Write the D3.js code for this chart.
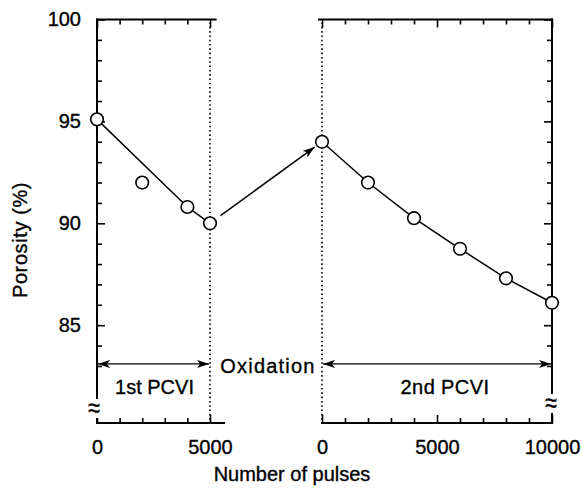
<!DOCTYPE html>
<html><head><meta charset="utf-8">
<script src="https://cdn.jsdelivr.net/npm/d3@7"></script>
<style>
html,body{margin:0;padding:0;background:#fff;}
text{font-family:"Liberation Sans",Arial,Helvetica,sans-serif;fill:#000;stroke:#000;stroke-width:0.35px;}
</style></head>
<body>
<svg id="c" width="582" height="491"></svg>
<script>
// ---- data ----
const firstPulses   = [0, 2000, 4000, 5000];
const firstPorosity = [95.1, 92.0, 90.8, 90.0];
const firstFitPulses   = [0, 4000, 5000];
const firstFitPorosity = [95.1, 90.8, 90.0];
const secondPulses   = [0, 2000, 4000, 6000, 8000, 10000];
const secondPorosity = [94.0, 92.0, 90.25, 88.75, 87.3, 86.1];
const yTickLabels = [85, 90, 95, 100];
const xTickLabelsFirst = [0, 5000];
const xTickLabelsSecond = [0, 5000, 10000];
const spanLabels = ["1st PCVI", "Oxidation", "2nd PCVI"];
const yTitle = "Porosity (%)";
const xTitle = "Number of pulses";

// ---- scales ----
const svg = d3.select("#c");
const y = d3.scaleLinear().domain([80.2, 100]).range([423, 19.5]);
const x1 = d3.scaleLinear().domain([0, 5000]).range([97, 210]);
const x2 = d3.scaleLinear().domain([0, 10000]).range([322, 552]);
const bottomY = y(80.2), topY = y(100);

const defs = svg.append("defs");
function marker(id, orient){
  defs.append("marker").attr("id", id).attr("viewBox","0 0 12 8")
    .attr("refX", 12).attr("refY", 4).attr("markerWidth", 12).attr("markerHeight", 8)
    .attr("markerUnits","userSpaceOnUse").attr("orient", orient)
    .append("path").attr("d","M0,0 L12,4 L0,8 L3,4 Z").attr("fill","#000");
}
marker("ah","auto");
marker("ahs","auto-start-reverse");

const ink = "#000";
// dotted verticals
[[x1(5000)],[x2(0)]].forEach(([xx])=>{
  svg.append("line").attr("x1",xx).attr("x2",xx).attr("y1",topY+3).attr("y2",bottomY)
    .attr("stroke",ink).attr("stroke-width",1.6).attr("stroke-dasharray","1.6,2.7");
});

// axes helper
function ticksRange(a,b,s){const r=[];for(let v=a;v<=b+1e-9;v+=s)r.push(v);return r;}
const yMinor = ticksRange(83, 100, 1).filter(v=>!yTickLabels.includes(v));

// left y axis
const gL = svg.append("g").attr("transform",`translate(${x1(0)},0)`);
gL.call(d3.axisLeft(y).tickValues(yMinor).tickSize(-5).tickFormat(""));
gL.call(g=>g.select(".domain").remove());
const gL2 = svg.append("g").attr("transform",`translate(${x1(0)},0)`);
gL2.call(d3.axisLeft(y).tickValues(yTickLabels).tickSize(-8).tickPadding(16).tickFormat(d3.format("d")));
gL2.select(".domain").remove();
gL2.selectAll("text").attr("font-size",20).attr("font-family","Liberation Sans, Arial, sans-serif");

// right y axis
const gR = svg.append("g").attr("transform",`translate(${x2(10000)},0)`);
gR.call(d3.axisRight(y).tickValues(yMinor).tickSize(-5).tickFormat(""));
gR.select(".domain").remove();
const gR2 = svg.append("g").attr("transform",`translate(${x2(10000)},0)`);
gR2.call(d3.axisRight(y).tickValues(yTickLabels).tickSize(-8).tickFormat(""));
gR2.select(".domain").remove();

// x axes
function xAxes(sc, maxV, labels){
  const minor = ticksRange(0, maxV, 1000).filter(v=>!labels.includes(v));
  const gb = svg.append("g").attr("transform",`translate(0,${bottomY})`);
  gb.call(d3.axisBottom(sc).tickValues(minor).tickSize(-5).tickFormat(""));
  gb.select(".domain").remove();
  const gb2 = svg.append("g").attr("transform",`translate(0,${bottomY})`);
  gb2.call(d3.axisBottom(sc).tickValues(labels).tickSize(-8).tickPadding(17).tickFormat(d3.format("d")));
  gb2.select(".domain").remove();
  gb2.selectAll("text").attr("font-size",20).attr("font-family","Liberation Sans, Arial, sans-serif");
  const gt = svg.append("g").attr("transform",`translate(0,${topY})`);
  gt.call(d3.axisTop(sc).tickValues(minor).tickSize(-5).tickFormat(""));
  gt.select(".domain").remove();
  const gt2 = svg.append("g").attr("transform",`translate(0,${topY})`);
  gt2.call(d3.axisTop(sc).tickValues(labels).tickSize(-8).tickFormat(""));
  gt2.select(".domain").remove();
}
xAxes(x1, 5000, xTickLabelsFirst);
xAxes(x2, 10000, xTickLabelsSecond);
svg.selectAll(".tick line").attr("stroke",ink).attr("stroke-width",1.6);

// axis lines
const lw = 2;
svg.append("line").attr("x1",x1(0)).attr("x2",x1(0)).attr("y1",topY-1).attr("y2",bottomY+1).attr("stroke",ink).attr("stroke-width",lw);
svg.append("line").attr("x1",x2(10000)).attr("x2",x2(10000)).attr("y1",topY-1).attr("y2",bottomY+1).attr("stroke",ink).attr("stroke-width",lw);
svg.append("line").attr("x1",x1(0)-1).attr("x2",x1(4850)+10).attr("y1",topY).attr("y2",topY).attr("stroke",ink).attr("stroke-width",lw);
svg.append("line").attr("x1",x1(0)-1).attr("x2",x1(5000)+15).attr("y1",bottomY).attr("y2",bottomY).attr("stroke",ink).attr("stroke-width",lw);
svg.append("line").attr("x1",x2(0)-4).attr("x2",x2(10000)+1).attr("y1",topY).attr("y2",topY).attr("stroke",ink).attr("stroke-width",lw);
svg.append("line").attr("x1",x2(0)-1).attr("x2",x2(10000)+1).attr("y1",bottomY).attr("y2",bottomY).attr("stroke",ink).attr("stroke-width",lw);

// axis breaks
[[x1(0)-3, 409],[x2(10000)-1, 404]].forEach(([bx,by])=>{
  svg.append("rect").attr("x",bx-4).attr("y",by-10).attr("width",10).attr("height",19).attr("fill","#fff");
  svg.append("text").attr("x",bx).attr("y",by+7).attr("text-anchor","middle").attr("font-size",24)
    .attr("transform",`translate(${bx},${by}) scale(0.9,1.15) translate(${-bx},${-by})`).text("≈");
});

// fit lines
const line1 = d3.line().x(d=>x1(d[0])).y(d=>y(d[1]));
const line2 = d3.line().x(d=>x2(d[0])).y(d=>y(d[1]));
svg.append("path").attr("d", line1(firstFitPulses.map((p,i)=>[p, firstFitPorosity[i]])))
  .attr("fill","none").attr("stroke",ink).attr("stroke-width",1.5);
svg.append("path").attr("d", line2(secondPulses.map((p,i)=>[p, secondPorosity[i]])))
  .attr("fill","none").attr("stroke",ink).attr("stroke-width",1.5);

// oxidation arrow
{
  const ax = x1(firstPulses[3]), ay = y(firstPorosity[3]);
  const bx = x2(secondPulses[0]), by = y(secondPorosity[0]);
  const dx = bx-ax, dy = by-ay, L = Math.hypot(dx,dy);
  svg.append("line").attr("x1",ax+dx/L*13).attr("y1",ay+dy/L*13)
    .attr("x2",bx-dx/L*9).attr("y2",by-dy/L*9)
    .attr("stroke",ink).attr("stroke-width",1.5).attr("marker-end","url(#ah)");
}

// points
svg.selectAll(".p1").data(firstPulses.map((p,i)=>[p, firstPorosity[i]])).join("circle")
  .attr("cx",d=>x1(d[0])).attr("cy",d=>y(d[1])).attr("r",6.3)
  .attr("fill","#fff").attr("stroke",ink).attr("stroke-width",1.6);
svg.selectAll(".p2").data(secondPulses.map((p,i)=>[p, secondPorosity[i]])).join("circle")
  .attr("cx",d=>x2(d[0])).attr("cy",d=>y(d[1])).attr("r",6.3)
  .attr("fill","#fff").attr("stroke",ink).attr("stroke-width",1.6);

// span arrows
const spanY = y(83.1);
svg.append("line").attr("x1",x1(0)+1).attr("x2",x1(5000)-1).attr("y1",spanY).attr("y2",spanY)
  .attr("stroke",ink).attr("stroke-width",1.3).attr("marker-start","url(#ahs)").attr("marker-end","url(#ah)");
svg.append("line").attr("x1",x2(0)+1).attr("x2",x2(10000)-1).attr("y1",spanY).attr("y2",spanY)
  .attr("stroke",ink).attr("stroke-width",1.3).attr("marker-start","url(#ahs)").attr("marker-end","url(#ah)");

svg.append("text").attr("x",(x1(0)+x1(5000))/2+1).attr("y",spanY+30).attr("text-anchor","middle").attr("font-size",20).text(spanLabels[0]);
svg.append("text").attr("x",(x1(5000)+x2(0))/2+2).attr("y",spanY+9).attr("text-anchor","middle").attr("font-size",20)
  .attr("letter-spacing","1.2px").text(spanLabels[1]);
svg.append("text").attr("x",(x2(0)+x2(10000))/2+8).attr("y",spanY+30).attr("text-anchor","middle").attr("font-size",20)
  .attr("letter-spacing","0.4px").text(spanLabels[2]);

// titles
svg.append("text").attr("transform","translate(27,240) rotate(-90)").attr("text-anchor","middle").attr("font-size",20)
  .attr("letter-spacing","0.6px").text(yTitle);
svg.append("text").attr("x",292).attr("y",481).attr("text-anchor","middle").attr("font-size",20).text(xTitle);
</script>
</body></html>
